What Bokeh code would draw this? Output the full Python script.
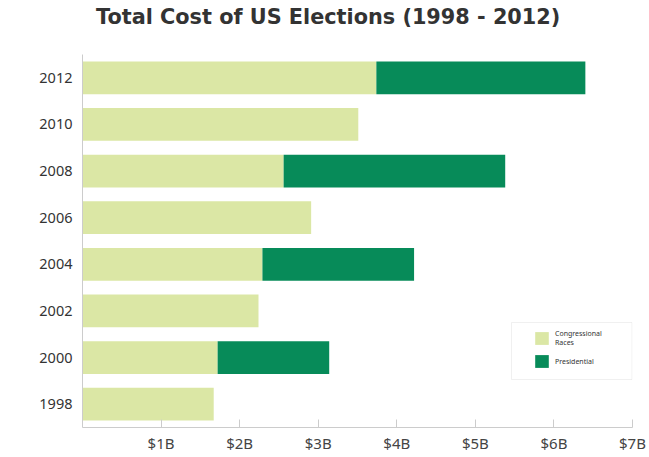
from bokeh.plotting import figure
from bokeh.layouts import column
from bokeh.models import (FactorRange, Range1d, FixedTicker, Legend, LegendItem,
                          ColumnDataSource, CustomJSTickFormatter, BoxAnnotation, Div)
from bokeh.embed import file_html
from bokeh.resources import INLINE

# Election cycles, bottom to top
years = ["1998", "2000", "2002", "2004", "2006", "2008", "2010", "2012"]
# Spending in billions of dollars
congressional = [1.67, 1.72, 2.24, 2.29, 2.91, 2.56, 3.51, 3.74]
presidential = [0.0, 1.42, 0.0, 1.93, 0.0, 2.82, 0.0, 2.66]
x_ticks = [1, 2, 3, 4, 5, 6, 7]
tick_labels = ["$1B", "$2B", "$3B", "$4B", "$5B", "$6B", "$7B"]
title_text = "Total Cost of US Elections (1998 - 2012)"

LIGHT = "#dbe7a5"
DARK = "#078b59"
FONT = "Noto Sans"
HEADER_H = 40

# heading row above the chart
header = Div(text=('<div style="margin:7px 0 0 96px; font-family:\'DejaVu Sans\';'
                   'font-size:20.8px; font-weight:bold; line-height:1; color:#333333;'
                   'white-space:nowrap;">' + title_text + '</div>'),
             width=649, height=HEADER_H, margin=0)

source = ColumnDataSource(dict(years=years, congressional=congressional,
                               presidential=presidential))

p = figure(width=649, height=457 - HEADER_H, output_backend="svg", toolbar_location=None,
           y_range=FactorRange(factors=years), x_range=Range1d(0, 7),
           min_border_left=82, min_border_right=17, min_border_top=54 - HEADER_H,
           min_border_bottom=30)

renderers = p.hbar_stack(["congressional", "presidential"], y="years", height=0.7,
                         color=[LIGHT, DARK], line_color=None, source=source)

p.outline_line_color = None
p.xgrid.grid_line_color = None
p.ygrid.grid_line_color = None

xa = p.xaxis[0]
xa.ticker = FixedTicker(ticks=x_ticks)
xa.formatter = CustomJSTickFormatter(args=dict(vals=x_ticks, names=tick_labels),
                                     code="return names[vals.indexOf(tick)];")
xa.axis_line_color = "#cccccc"
xa.major_tick_line_color = "#cccccc"
xa.major_tick_in = 8
xa.major_tick_out = 0
xa.minor_tick_line_color = None
xa.major_label_text_font = FONT
xa.major_label_text_font_size = "15px"
xa.major_label_text_color = "#444444"
xa.major_label_standoff = 5

ya = p.yaxis[0]
ya.axis_line_color = "#cccccc"
ya.major_tick_line_color = None
ya.major_tick_in = 0
ya.major_tick_out = 0
ya.minor_tick_line_color = None
ya.major_label_text_font = FONT
ya.major_label_text_font_size = "14.5px"
ya.major_label_text_color = "#333333"
ya.major_label_standoff = 10

# legend frame (screen units measured from the plot frame's bottom-left)
p.add_layout(BoxAnnotation(left=429, right=549.5, top=105, bottom=48,
                           left_units="screen", right_units="screen",
                           top_units="screen", bottom_units="screen",
                           fill_color="white", fill_alpha=1.0,
                           line_color="#cccccc", line_width=1))

legend = Legend(items=[LegendItem(label="Congressional\nRaces", renderers=[renderers[0]]),
                       LegendItem(label="Presidential", renderers=[renderers[1]])],
                location=(451, 58), orientation="vertical",
                glyph_width=17, glyph_height=16, label_standoff=5,
                label_text_font=FONT, label_text_font_size="7px",
                label_text_color="#333333", padding=0, spacing=6,
                border_line_color=None, background_fill_alpha=0.0,
                margin=0)
p.add_layout(legend, "center")

page = column(header, p, spacing=0)
open("out.html", "w").write(file_html(page, INLINE))
